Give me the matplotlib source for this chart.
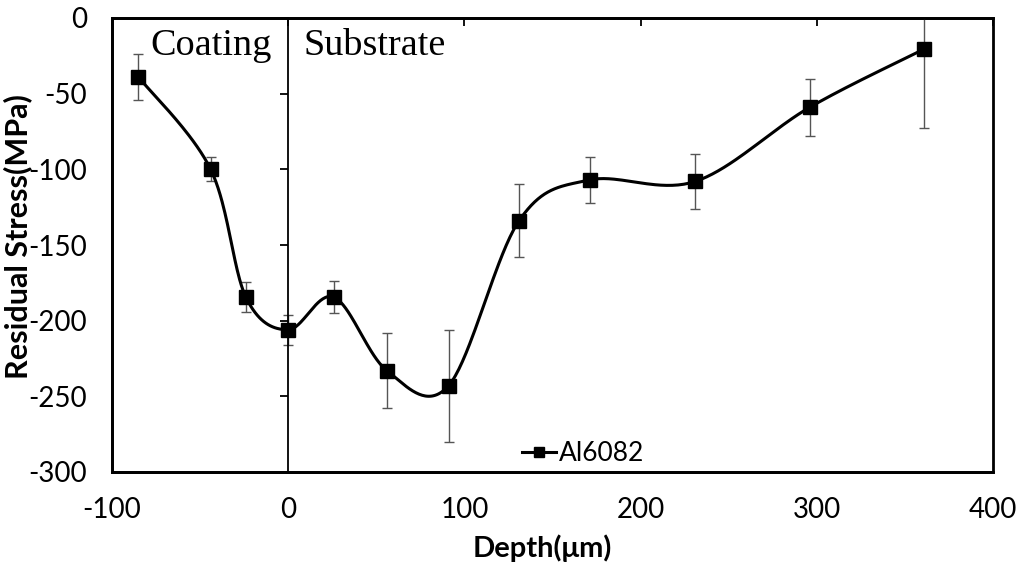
import matplotlib.pyplot as plt
import numpy as np

plt.rcParams['axes.unicode_minus'] = False
plt.rcParams['font.family'] = ['Lato', 'DejaVu Sans']

# data
depth = [-85, -44, -24, 0, 26, 56, 91, 131, 171, 231, 296, 361]
stress = [-39, -100, -184.5, -206, -184.5, -233, -243, -134, -107, -108, -59, -20.5]
err = [15, 8, 10, 10, 10.5, 25, 37, 24, 15, 18, 19, 52]
xticks = [-100, 0, 100, 200, 300, 400]
yticks = [0, -50, -100, -150, -200, -250, -300]


def smooth(x, y, n=40):
    # excel-like smoothed line (catmull-rom bezier)
    p = np.column_stack([x, y]).astype(float)
    p_ext = np.vstack([p[0], p, p[-1]])
    out = []
    t = np.linspace(0, 1, n)[:, None]
    for i in range(1, len(p_ext) - 2):
        p0, p1, p2, p3 = p_ext[i - 1], p_ext[i], p_ext[i + 1], p_ext[i + 2]
        c1 = p1 + (p2 - p0) / 6
        c2 = p2 - (p3 - p1) / 6
        seg = ((1 - t) ** 3) * p1 + 3 * ((1 - t) ** 2) * t * c1 + 3 * (1 - t) * t ** 2 * c2 + t ** 3 * p2
        out.append(seg)
    out = np.vstack(out)
    return out[:, 0], out[:, 1]


fig = plt.figure(figsize=(10.16, 5.67), dpi=100)
ax = fig.add_axes([112 / 1016, 1 - 472 / 567, (993 - 112) / 1016, (472 - 18) / 567])

sx, sy = smooth(depth, stress)
ax.plot(sx, sy, color='black', lw=2.2, zorder=3)
ax.errorbar(depth, stress, yerr=err, fmt='none', ecolor='#555555', elinewidth=1,
            capsize=3.5, capthick=1, zorder=2)
ax.plot(depth, stress, 's', color='black', ms=9.5, zorder=4)
# legend proxy
ax.plot([], [], '-s', color='black', lw=2.2, ms=7, label='Al6082')

ax.set_xlim(-100, 400)
ax.set_ylim(-300, 0)
ax.set_xticks(xticks)
ax.set_yticks(yticks)

for s in ['left', 'top', 'bottom']:
    ax.spines[s].set_linewidth(2)
ax.spines['right'].set_position(('data', 0))
ax.spines['right'].set_linewidth(1.3)
ax.patch.set_edgecolor('black')
ax.patch.set_linewidth(2)

ax.tick_params(axis='x', top=True, bottom=False, labeltop=False, labelbottom=True,
               direction='in', length=6, width=1.3, labelsize=20, pad=18)
ax.tick_params(axis='y', right=True, left=False, labelright=False, labelleft=True,
               direction='in', length=6, width=1.3, labelsize=20, pad=18)

ax.set_xlabel('Depth(μm)', fontsize=21, fontweight='bold', va='center')
ax.set_ylabel('Residual Stress(MPa)', fontsize=22, fontweight='bold', va='center')
ax.xaxis.set_label_coords(0.489, -0.167)
ax.yaxis.set_label_coords(-0.107, 0.518)

ax.text(-43.7, -24.5, 'Coating', fontsize=27.5, family='Liberation Serif', ha='center', va='baseline')
ax.text(8.5, -24.5, 'Substrate', fontsize=27.5, family='Liberation Serif', ha='left', va='baseline')

ax.legend(loc='center', bbox_to_anchor=(0.535, 0.04), frameon=False, fontsize=19,
          handlelength=1.3, handletextpad=0.1, borderpad=0)

plt.savefig('out.png', dpi=100)
